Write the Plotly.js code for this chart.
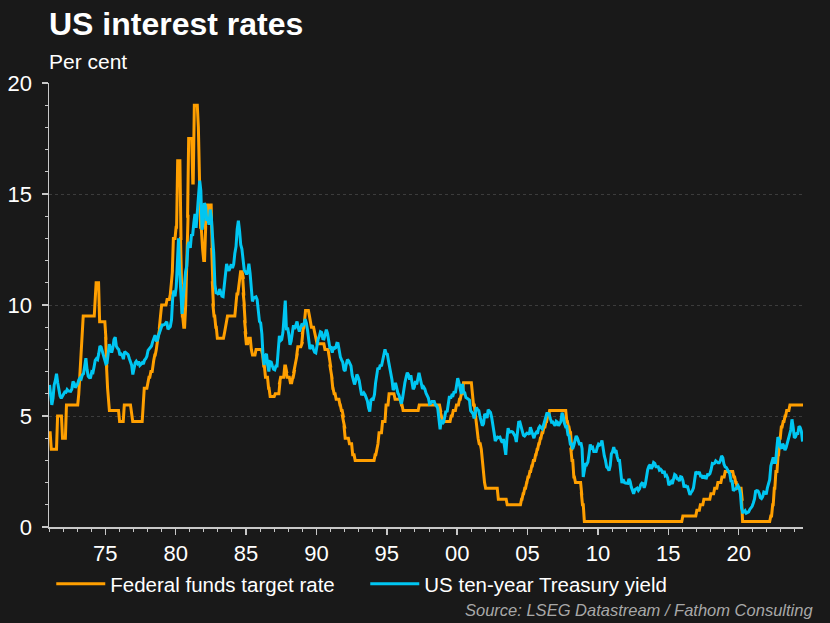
<!DOCTYPE html>
<html>
<head>
<meta charset="utf-8">
<script src="https://cdn.plot.ly/plotly-3.0.1.min.js"></script>
<style>
html,body{margin:0;padding:0;background:#191919;}
#chart{width:830px;height:623px;}
</style>
</head>
<body>
<div id="chart"></div>
<script>
// ---- Data ----
const seriesNames = ['Federal funds target rate', 'US ten-year Treasury yield'];
const seriesColors = ['#ff9f00', '#00c6f2'];

// Federal funds target rate: dates of change and new level (per cent)
const fedDates = [
 '1971-01-01','1971-02-01','1971-07-15','1971-11-20','1972-03-01',
 '1973-01-15','1973-02-10','1973-03-10','1973-04-05','1973-04-25','1973-05-10',
 '1974-03-20','1974-04-10','1974-07-10','1974-12-20','1975-01-10','1975-02-01','1975-03-01','1975-03-20',
 '1975-12-10','1976-04-10','1976-10-15','1976-11-15','1977-08-15','1977-09-10','1977-12-15',
 '1978-01-10','1978-03-01','1978-05-01','1978-06-10','1978-07-20','1978-08-20','1978-09-25','1978-10-20','1978-11-05','1978-12-05',
 '1979-04-25','1979-07-20','1979-08-15','1979-09-10','1979-10-06','1979-12-15',
 '1980-01-25','1980-04-20','1980-05-05','1980-05-25','1980-07-01','1980-08-20','1980-09-20','1980-10-20','1980-11-05',
 '1981-02-20','1981-04-01','1981-07-15','1981-08-15','1981-09-10','1981-10-25','1981-12-01',
 '1982-01-20','1982-02-10','1982-04-15','1982-06-01','1982-07-10','1982-07-25','1982-08-10','1982-08-25','1982-10-10','1982-11-20',
 '1983-05-25','1983-06-25','1983-07-20','1983-08-10',
 '1984-03-15','1984-04-10','1984-06-01','1984-07-15','1984-09-20','1984-10-05','1984-10-20','1984-11-10','1984-11-25','1984-12-10',
 '1985-02-10','1985-04-20','1985-05-20','1985-08-20',
 '1986-02-01','1986-03-07','1986-04-21','1986-07-11','1986-08-21',
 '1987-01-01','1987-05-01','1987-05-20','1987-09-04','1987-10-22','1987-11-04',
 '1988-01-28','1988-03-30','1988-05-09','1988-05-25','1988-06-22','1988-07-19','1988-08-08','1988-11-22','1988-12-15',
 '1989-01-05','1989-02-09','1989-02-24','1989-06-06','1989-07-07','1989-07-27','1989-10-18','1989-11-06','1989-12-20',
 '1990-07-13','1990-10-29','1990-11-14','1990-12-07','1990-12-19',
 '1991-01-09','1991-02-01','1991-03-08','1991-04-30','1991-08-06','1991-09-13','1991-10-31','1991-11-06','1991-12-06','1991-12-20',
 '1992-04-09','1992-07-02','1992-09-04',
 '1994-02-04','1994-03-22','1994-04-18','1994-05-17','1994-08-16','1994-11-15',
 '1995-02-01','1995-07-06','1995-12-19','1996-01-31','1997-03-25',
 '1998-09-29','1998-10-15','1998-11-17','1999-06-30','1999-08-24','1999-11-16',
 '2000-02-02','2000-03-21','2000-05-16',
 '2001-01-03','2001-01-31','2001-03-20','2001-04-18','2001-05-15','2001-06-27','2001-08-21','2001-09-17','2001-10-02','2001-11-06','2001-12-11',
 '2002-11-06','2003-06-25',
 '2004-06-30','2004-08-10','2004-09-21','2004-11-10','2004-12-14',
 '2005-02-02','2005-03-22','2005-05-03','2005-06-30','2005-08-09','2005-09-20','2005-11-01','2005-12-13',
 '2006-01-31','2006-03-28','2006-05-10','2006-06-29',
 '2007-09-18','2007-10-31','2007-12-11',
 '2008-01-22','2008-01-30','2008-03-18','2008-04-30','2008-10-08','2008-10-29','2008-12-16',
 '2015-12-16','2016-12-14','2017-03-15','2017-06-14','2017-12-13',
 '2018-03-21','2018-06-13','2018-09-26','2018-12-19',
 '2019-07-31','2019-09-18','2019-10-30','2020-03-03','2020-03-15',
 '2022-03-16','2022-05-04','2022-06-15','2022-07-27','2022-09-21','2022-11-02','2022-12-14',
 '2023-02-01','2023-03-22','2023-05-03','2023-07-26','2024-07-27'
];
const fedRates = [
 4.25,3.5,5.0,4.0,5.5,
 6.0,6.75,7.25,8.0,8.75,9.5,
 10.5,11.0,9.25,8.5,7.25,6.25,5.5,5.25,
 4.75,5.5,5.0,4.75,5.75,6.25,6.5,
 6.75,7.0,7.5,7.75,8.0,8.5,8.75,9.0,9.5,10.0,
 10.25,10.5,11.0,11.5,13.0,13.5,
 16.5,13.0,11.0,9.5,9.0,10.0,12.0,14.0,17.5,
 15.5,19.0,18.0,15.5,13.5,12.5,12.0,
 13.5,14.5,14.0,14.5,12.5,11.0,10.0,9.5,9.0,8.5,
 8.75,9.0,9.25,9.5,
 10.0,10.5,11.0,11.5,11.25,10.5,10.0,9.25,8.75,8.25,
 8.5,8.0,7.75,8.0,
 7.75,7.25,6.75,6.25,5.875,
 6.0,6.5,6.75,7.25,7.0,6.75,
 6.5,6.75,7.0,7.25,7.5,7.75,8.125,8.25,8.75,
 9.0,9.25,9.75,9.5,9.25,9.0,8.75,8.5,8.25,
 8.0,7.75,7.5,7.25,7.0,
 6.75,6.25,6.0,5.75,5.5,5.25,5.0,4.75,4.5,4.0,
 3.75,3.25,3.0,
 3.25,3.5,3.75,4.25,4.75,5.5,
 6.0,5.75,5.5,5.25,5.5,
 5.25,5.0,4.75,5.0,5.25,5.5,
 5.75,6.0,6.5,
 6.0,5.5,5.0,4.5,4.0,3.75,3.5,3.0,2.5,2.0,1.75,
 1.25,1.0,
 1.25,1.5,1.75,2.0,2.25,
 2.5,2.75,3.0,3.25,3.5,3.75,4.0,4.25,
 4.5,4.75,5.0,5.25,
 4.75,4.5,4.25,
 3.5,3.0,2.25,2.0,1.5,1.0,0.25,
 0.5,0.75,1.0,1.25,1.5,
 1.75,2.0,2.25,2.5,
 2.25,2.0,1.75,1.25,0.25,
 0.5,1.0,1.75,2.5,3.25,4.0,4.5,
 4.75,5.0,5.25,5.5,5.5
];

// US ten-year Treasury yield, monthly, starting January 1971 (per cent)
const treasuryStartYear = 1971;
const treasuryYield = [
 6.4,5.9,5.5,5.8,6.4,6.6,6.9,6.5,6.1,5.9,5.8,5.9,
 5.95,6.08,6.07,6.19,6.13,6.11,6.11,6.21,6.55,6.48,6.28,6.36,
 6.46,6.64,6.71,6.67,6.85,6.90,7.25,7.6,7.09,6.79,6.73,6.74,
 6.99,6.96,7.21,7.51,7.58,7.54,7.81,8.15,8.1,7.90,7.68,7.43,
 7.35,7.39,7.73,8.23,8.06,7.86,8.06,8.45,8.55,8.14,8.05,8.00,
 7.74,7.79,7.73,7.56,7.90,7.86,7.83,7.77,7.59,7.41,7.29,6.87,
 7.21,7.39,7.46,7.37,7.46,7.28,7.33,7.40,7.34,7.52,7.58,7.69,
 7.96,8.03,8.04,8.15,8.35,8.46,8.64,8.41,8.42,8.64,8.81,9.01,
 9.10,9.10,9.12,9.18,9.25,8.91,8.95,9.03,9.33,10.30,10.65,10.39,
 10.80,12.41,13.0,11.47,10.18,9.6,10.25,11.10,11.51,11.75,12.68,12.84,
 12.57,13.19,13.12,13.68,14.10,13.47,14.28,14.94,15.6,15.15,13.39,13.72,
 14.59,14.43,13.86,13.87,13.62,14.30,13.95,13.06,12.34,10.91,10.55,10.54,
 10.46,10.72,10.51,10.40,10.38,10.85,11.38,11.85,11.65,11.54,11.69,11.83,
 11.67,11.84,12.32,12.63,13.41,13.8,13.36,12.72,12.52,12.16,11.57,11.50,
 11.38,11.51,11.86,11.43,10.85,10.16,10.31,10.33,10.37,10.24,9.78,9.26,
 9.19,8.70,7.78,7.30,7.71,7.80,7.30,7.0,7.45,7.43,7.25,7.11,
 7.08,7.25,7.25,8.02,8.61,8.40,8.45,8.76,9.6,10.2,8.86,8.99,
 8.67,8.21,8.37,8.72,9.09,8.92,9.06,9.26,8.98,8.80,8.96,9.11,
 9.09,9.17,9.36,9.18,8.86,8.28,8.02,8.11,8.19,8.01,7.87,7.84,
 8.21,8.47,8.59,8.79,8.76,8.48,8.47,8.75,8.89,8.72,8.39,8.08,
 8.09,7.85,8.11,8.04,8.07,8.28,8.27,7.90,7.65,7.53,7.42,7.09,
 7.03,7.34,7.54,7.48,7.39,7.26,6.84,6.59,6.42,6.59,6.87,6.77,
 6.60,6.26,5.98,5.97,6.04,5.96,5.81,5.68,5.36,5.2,5.72,5.77,
 5.75,5.97,6.48,6.97,7.18,7.10,7.30,7.24,7.46,7.74,8.0,7.81,
 7.78,7.47,7.20,7.06,6.63,6.17,6.28,6.49,6.20,6.04,5.93,5.71,
 5.55,5.81,6.27,6.51,6.74,6.95,6.87,6.64,6.83,6.53,6.20,6.30,
 6.58,6.42,6.69,6.95,6.71,6.49,6.22,6.30,6.21,6.03,5.88,5.81,
 5.54,5.57,5.65,5.64,5.65,5.50,5.46,5.34,4.81,4.4,4.83,4.65,
 4.72,5.00,5.23,5.18,5.54,5.90,5.79,5.94,5.92,6.11,6.03,6.28,
 6.7,6.52,6.26,5.99,6.44,6.10,6.05,5.83,5.80,5.74,5.72,5.24,
 5.16,5.10,4.89,5.14,5.39,5.28,5.24,4.97,4.73,4.57,4.65,5.09,
 5.04,4.91,5.28,5.21,5.16,4.93,4.65,4.26,3.87,3.94,4.05,4.03,
 4.05,3.90,3.81,3.96,3.57,3.25,3.98,4.45,4.27,4.29,4.30,4.27,
 4.15,4.08,3.83,4.35,4.72,4.73,4.50,4.28,4.13,4.10,4.19,4.23,
 4.22,4.17,4.50,4.34,4.14,4.00,4.18,4.26,4.20,4.46,4.54,4.47,
 4.42,4.57,4.72,4.99,5.11,5.11,5.09,4.88,4.72,4.73,4.60,4.56,
 4.76,4.72,4.56,4.69,4.75,5.15,5.00,4.67,4.52,4.53,4.15,4.10,
 3.74,3.74,3.51,3.68,3.88,4.10,4.01,3.89,3.69,3.81,3.53,2.25,
 2.52,2.87,2.82,2.93,3.29,3.72,3.56,3.59,3.40,3.39,3.40,3.59,
 3.73,3.69,3.73,3.9,3.42,3.20,3.01,2.70,2.65,2.54,2.76,3.29,
 3.39,3.6,3.41,3.46,3.17,3.00,3.00,2.30,1.98,2.15,2.01,1.98,
 1.97,1.97,2.17,2.05,1.80,1.62,1.5,1.68,1.72,1.75,1.65,1.72,
 1.91,1.98,1.96,1.76,1.93,2.30,2.58,2.74,2.81,2.62,2.72,2.90,
 2.86,2.71,2.72,2.71,2.56,2.60,2.54,2.42,2.53,2.30,2.33,2.21,
 1.88,1.98,2.04,1.94,2.20,2.36,2.32,2.17,2.17,2.07,2.26,2.24,
 2.09,1.78,1.89,1.81,1.81,1.64,1.45,1.56,1.63,1.76,2.14,2.49,
 2.43,2.42,2.48,2.30,2.30,2.19,2.32,2.21,2.20,2.36,2.35,2.40,
 2.58,2.86,2.84,2.87,2.98,2.91,2.89,2.89,3.00,3.2,3.12,2.83,
 2.71,2.68,2.57,2.53,2.40,2.07,2.06,1.63,1.70,1.71,1.81,1.86,
 1.76,1.50,0.87,0.66,0.67,0.73,0.62,0.65,0.68,0.79,0.87,0.93,
 1.08,1.26,1.61,1.64,1.62,1.52,1.32,1.28,1.37,1.58,1.56,1.47,
 1.76,1.93,2.13,2.75,2.90,3.14,2.90,2.90,3.52,4.05,3.89,3.62,
 3.53,3.75,3.66,3.46,3.57,3.75,3.90,4.17,4.38,4.85,4.50,4.02,
 4.06,4.21,4.21,4.54,4.48,4.31,3.85
];

const xRange = ['1971-01-01', '2024-07-27'];
const yRange = [0, 20];

// ---- Build monthly dates for the Treasury series ----
const treasuryDates = treasuryYield.map(function (v, i) {
  const y = treasuryStartYear + Math.floor(i / 12);
  const m = (i % 12) + 1;
  return y + '-' + (m < 10 ? '0' + m : m) + '-15';
});

// ---- Fed funds path: level holds until a change date,
//      then moves to the new level over roughly one month ----
const DAY = 86400000;
const fedX = [], fedY = [];
fedDates.forEach(function (d, i) {
  const t = Date.parse(d + 'T00:00:00Z');
  if (i > 0) {
    fedX.push(new Date(t).toISOString().slice(0, 10));
    fedY.push(fedRates[i - 1]);
    fedX.push(new Date(t + 28 * DAY).toISOString().slice(0, 10));
    fedY.push(fedRates[i]);
  } else {
    fedX.push(d);
    fedY.push(fedRates[i]);
  }
});

const FONT = 'Liberation Sans, Arial, Helvetica, sans-serif';

const traces = [
  {
    x: fedX, y: fedY, name: seriesNames[0], type: 'scatter', mode: 'lines',
    line: {color: seriesColors[0], width: 3}, hoverinfo: 'skip'
  },
  {
    x: treasuryDates, y: treasuryYield, name: seriesNames[1], type: 'scatter', mode: 'lines',
    line: {color: seriesColors[1], width: 3}, hoverinfo: 'skip'
  }
];

const layout = {
  width: 830, height: 623,
  paper_bgcolor: '#191919', plot_bgcolor: '#191919',
  margin: {l: 49, r: 27, t: 83, b: 96, pad: 0},
  font: {family: FONT, color: '#ffffff'},
  title: {
    text: '<b>US interest rates</b>',
    font: {family: FONT, size: 32, color: '#ffffff'},
    xref: 'container', yref: 'container',
    x: 49 / 830, xanchor: 'left',
    y: 1 - 24 / 623, yanchor: 'middle'
  },
  showlegend: true,
  legend: {
    orientation: 'h', x: 0.003, xanchor: 'left', y: -0.128, yanchor: 'middle',
    font: {family: FONT, size: 20.5, color: '#ffffff'},
    bgcolor: 'rgba(0,0,0,0)', itemwidth: 49, entrywidth: 250, entrywidthmode: 'pixels',
    traceorder: 'normal'
  },
  xaxis: {
    type: 'date', range: xRange,
    tick0: '1975-01-01', dtick: 'M60', tickformat: '%y',
    ticks: 'outside', ticklen: 6, tickwidth: 1.5, tickcolor: '#c8c8c8',
    showline: true, linecolor: '#c8c8c8', linewidth: 1.5,
    showgrid: false, zeroline: false,
    tickfont: {family: FONT, size: 22, color: '#ffffff'},
    ticklabelstandoff: 0,
    minor: {dtick: 'M12', tick0: '1971-01-01', ticks: 'outside', ticklen: 3, tickwidth: 1, tickcolor: '#c8c8c8', showgrid: false},
    fixedrange: true
  },
  yaxis: {
    range: yRange, dtick: 5, tick0: 0,
    ticks: 'outside', ticklen: 6, tickwidth: 1.5, tickcolor: '#c8c8c8',
    showline: true, linecolor: '#c8c8c8', linewidth: 1.5,
    showgrid: true, gridcolor: '#3c3c3c', griddash: 'dot', gridwidth: 1,
    zeroline: false,
    tickfont: {family: FONT, size: 22, color: '#ffffff'},
    ticklabelstandoff: 5,
    minor: {dtick: 1, ticks: 'outside', ticklen: 3, tickwidth: 1, tickcolor: '#c8c8c8', showgrid: false},
    fixedrange: true
  },
  annotations: [
    {
      text: 'Per cent', xref: 'paper', yref: 'paper', x: -0.002, y: (527 - 61) / 444,
      xanchor: 'left', yanchor: 'middle', showarrow: false,
      font: {family: FONT, size: 21, color: '#ffffff'}
    },
    {
      text: '<i>Source: LSEG Datastream / Fathom Consulting</i>', xref: 'paper', yref: 'paper',
      x: (815 - 49) / 754, y: (527 - 610) / 444, xanchor: 'right', yanchor: 'middle', showarrow: false,
      font: {family: FONT, size: 16.5, color: '#a8a8a8'}
    }
  ]
};

Plotly.newPlot('chart', traces, layout, {displayModeBar: false, staticPlot: true});
</script>
</body>
</html>
